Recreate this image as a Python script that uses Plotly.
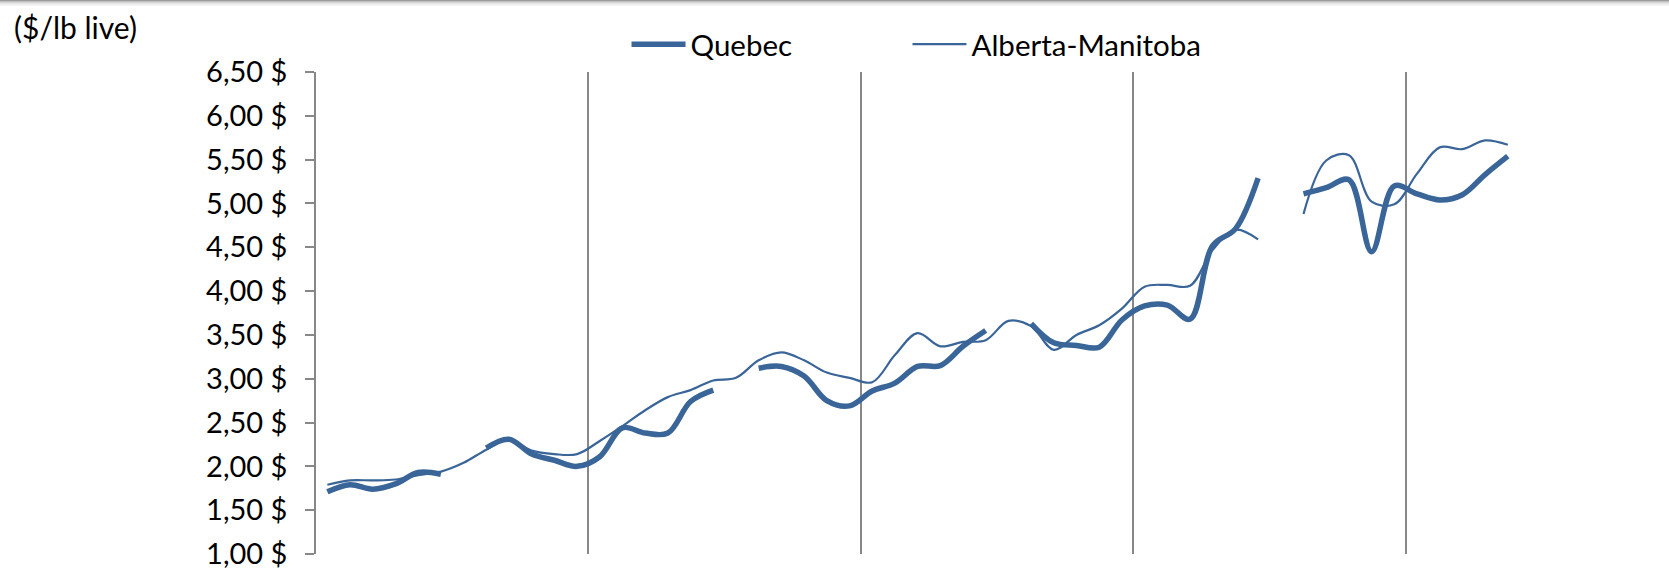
import plotly.graph_objects as go

# ---- data (monthly index, 5 yearly panels) ----
months = list(range(53))
quebec = [1.71, 1.79, 1.74, 1.80, 1.93, 1.91, None, 2.21, 2.31, 2.14, 2.07, 2.00,
          2.11, 2.44, 2.38, 2.38, 2.74, 2.87, None, 3.12, 3.14, 3.03, 2.75, 2.69,
          2.86, 2.95, 3.14, 3.15, 3.37, 3.55, None, 3.63, 3.41, 3.38, 3.36, 3.67,
          3.83, 3.84, 3.68, 4.52, 4.71, 5.29, None, 5.11, 5.18, 5.27, 4.45, 5.20,
          5.11, 5.04, 5.10, 5.33, 5.54]
alberta = [1.79, 1.84, 1.84, 1.85, 1.90, 1.94, 2.04, 2.19, 2.31, 2.18, 2.14, 2.14,
           2.29, 2.46, 2.64, 2.79, 2.87, 2.98, 3.01, 3.21, 3.30, 3.21, 3.07, 3.01,
           2.96, 3.27, 3.52, 3.37, 3.42, 3.44, 3.66, 3.60, 3.33, 3.50, 3.61, 3.80,
           4.05, 4.07, 4.06, 4.47, 4.70, 4.59, None, 4.88, 5.49, 5.55, 5.02, 4.99,
           5.34, 5.64, 5.62, 5.72, 5.67]
year_bounds = [11.5, 23.5, 35.5, 47.5]
ytick_vals = [1.0, 1.5, 2.0, 2.5, 3.0, 3.5, 4.0, 4.5, 5.0, 5.5, 6.0, 6.5]
ytick_text = ["1,00 $", "1,50 $", "2,00 $", "2,50 $", "3,00 $", "3,50 $",
              "4,00 $", "4,50 $", "5,00 $", "5,50 $", "6,00 $", "6,50 $"]
series_names = ["Quebec", "Alberta-Manitoba"]
unit_label = "($/lb live)"

COLOR = "#3A6598"
GRID = "#888888"
FONT = "Lato"

fig = go.Figure()
fig.add_trace(go.Scatter(x=months, y=quebec, name=series_names[0], mode="lines",
                         line=dict(color=COLOR, width=5.5, shape="spline", smoothing=1),
                         connectgaps=False, legend="legend"))
fig.add_trace(go.Scatter(x=months, y=alberta, name=series_names[1], mode="lines",
                         line=dict(color=COLOR, width=2.2, shape="spline", smoothing=1),
                         connectgaps=False, legend="legend2"))

W, H = 1669, 569
L, T, B = 316, 72, 15
PW = W - L

leg_common = dict(orientation="h", y=1.057, yanchor="middle", xanchor="left",
                  itemwidth=54, font=dict(family=FONT, size=29.5, color="black"),
                  bgcolor="rgba(0,0,0,0)")

fig.update_layout(
    width=W, height=H,
    margin=dict(l=L, r=0, t=T, b=B),
    paper_bgcolor="white", plot_bgcolor="white",
    font=dict(family=FONT, size=26, color="black"),
    showlegend=True,
    legend=dict(x=0.2295, **leg_common),
    legend2=dict(x=(914 - 6.5 - L) / PW, **leg_common),
    xaxis=dict(range=[-0.5, 59.1], tickvals=year_bounds, showticklabels=False,
               ticks="", showgrid=True, gridcolor=GRID, gridwidth=1.6,
               zeroline=False, showline=False),
    yaxis=dict(range=[1.0, 6.5], tickvals=ytick_vals, ticktext=ytick_text,
               showgrid=False, zeroline=False, showline=True, linecolor=GRID,
               linewidth=1.6, ticks="outside", ticklen=9, tickwidth=1.6,
               tickcolor=GRID, ticklabelstandoff=12, ticklabeloverflow="allow",
               tickfont=dict(family=FONT, size=29, color="black")),
)

fig.add_annotation(text=unit_label, xref="paper", yref="paper",
                   x=(12 - L) / PW, y=1 + (T - 27) / (H - T - B),
                   xanchor="left", yanchor="middle", showarrow=False,
                   font=dict(family=FONT, size=30, color="black"))

# top shadow band of the original screenshot
ptop = 1 + T / (H - T - B)
px = 1.0 / (H - T - B)
for i, c in enumerate(["#9a9a9a", "#b4b4b4", "#cfcfcf", "#e4e4e4", "#f3f3f3"]):
    fig.add_shape(type="rect", xref="paper", yref="paper",
                  x0=-L / PW, x1=1, y0=ptop - (i + 1) * px * 1.2, y1=ptop - i * px * 1.2,
                  fillcolor=c, line=dict(width=0), layer="above")

fig.write_html("out.html", config={"displayModeBar": False},
               post_script="document.body.style.margin='0';document.body.style.overflow='hidden';")
